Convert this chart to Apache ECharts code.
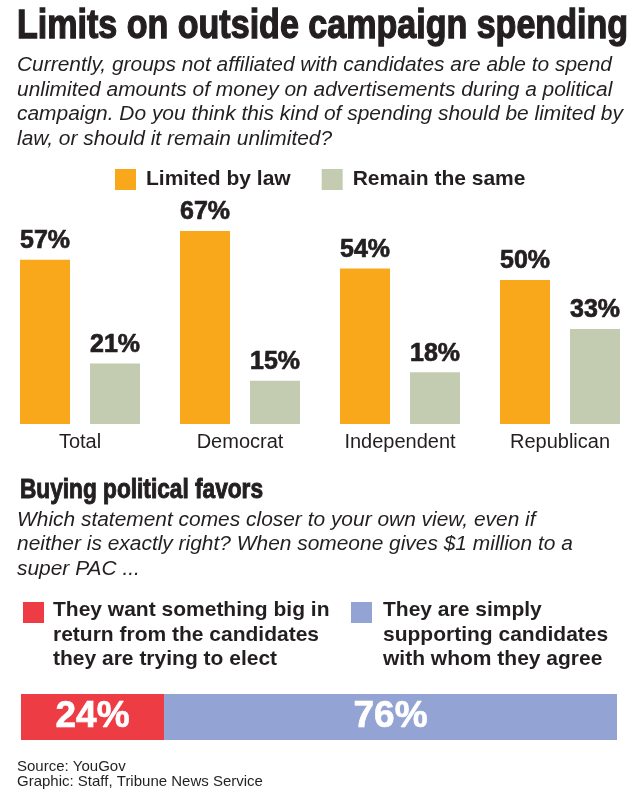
<!DOCTYPE html>
<html><head><meta charset="utf-8">
<script src="https://cdn.jsdelivr.net/npm/echarts@6/dist/echarts.min.js"></script>
<style>html,body{margin:0;padding:0;background:#fff}#c{width:642px;height:794px}</style>
</head><body><div id="c"></div>
<script>
// ---- data ----
const titleText = 'Limits on outside campaign spending';
const subtitleLines = [
  'Currently, groups not affiliated with candidates are able to spend',
  'unlimited amounts of money on advertisements during a political',
  'campaign. Do you think this kind of spending should be limited by',
  'law, or should it remain unlimited?'
];
const categories = ['Total', 'Democrat', 'Independent', 'Republican'];
const seriesNames = ['Limited by law', 'Remain the same'];
const limitedByLaw = [57, 67, 54, 50];
const remainSame = [21, 15, 18, 33];

const section2Title = 'Buying political favors';
const section2Lines = [
  'Which statement comes closer to your own view, even if',
  'neither is exactly right? When someone gives $1 million to a',
  'super PAC ...'
];
const favorNames = ['They want something big in return', 'They are simply supporting candidates'];
const favorLegendLines = [
  ['They want something big in', 'return from the candidates', 'they are trying to elect'],
  ['They are simply', 'supporting candidates', 'with whom they agree']
];
const favorCategory = ['Gives $1 million to a super PAC'];
const favorWantSomething = [24];
const favorSupporting = [76];
const sourceLines = ['Source: YouGov', 'Graphic: Staff, Tribune News Service'];

// ---- styling ----
const INK = '#231F20';
const ORANGE = '#F9A81B';
const SAGE = '#C3CCB1';
const RED = '#EE3C45';
const BLUE = '#93A4D4';

const cv = document.createElement('canvas').getContext('2d');
function tw(text, font) { cv.font = font; return cv.measureText(text).width; }
function hasFont(name) {
  const s = 'abcdefghijWMil1234567890%';
  cv.font = '40px monospace'; const a = cv.measureText(s).width;
  cv.font = '40px "' + name + '", monospace'; const b = cv.measureText(s).width;
  return Math.abs(a - b) > 0.5;
}
const hasNarrow = hasFont('Liberation Sans Narrow');
const SANS = '"Liberation Sans", Arial, sans-serif';
const COND = hasNarrow ? '"Liberation Sans Narrow", "Liberation Sans", sans-serif' : SANS;
const valueFont = hasNarrow ? 28 : 25;
const stackFont = hasNarrow ? 40 : 37;

function fitText(text, x, capCenterY, size, weight, family, targetW, strokeW) {
  const font = weight + ' ' + size + 'px ' + family;
  const w = tw(text, font);
  const sx = targetW ? targetW / w : 1;
  return {
    type: 'text', x: x, y: capCenterY, scaleX: sx, silent: true,
    style: { text: text, x: 0, y: 0, fill: INK, stroke: INK, lineWidth: strokeW || 0,
      font: font, verticalAlign: 'middle', align: 'left' }
  };
}

const graphics = [];
// title
graphics.push(fitText(titleText, 17, 26.5, 40, 'bold', COND, 611, 1.3));
// subtitle (common scale from first line)
const subFont = 'italic normal 20px ' + SANS;
const subScale = 595 / tw(subtitleLines[0], subFont);
const subY = [65, 90, 114.5, 139];
subtitleLines.forEach((t, i) => {
  graphics.push({ type: 'text', x: 17, y: subY[i], scaleX: subScale, silent: true,
    style: { text: t, x: 0, y: 0, fill: INK, font: subFont, verticalAlign: 'middle' } });
});
// section 2 title
graphics.push(fitText(section2Title, 20, 490, 28, 'bold', COND, 243, 1.0));
const s2Y = [520, 544.5, 569];
section2Lines.forEach((t, i) => {
  graphics.push({ type: 'text', x: 17, y: s2Y[i], scaleX: subScale, silent: true,
    style: { text: t, x: 0, y: 0, fill: INK, font: subFont, verticalAlign: 'middle' } });
});
// bottom legend
const legX = [[23, 53], [351, 383]];
const legColors = [RED, BLUE];
const legY = [610, 635, 659.5];
favorLegendLines.forEach((lines, k) => {
  graphics.push({ type: 'rect', x: legX[k][0], y: 602, silent: true,
    shape: { width: 21, height: 21 }, style: { fill: legColors[k] } });
  lines.forEach((t, i) => {
    graphics.push({ type: 'text', x: legX[k][1], y: legY[i], silent: true,
      style: { text: t, x: 0, y: 0, fill: INK, font: 'bold 21px ' + SANS, verticalAlign: 'middle' } });
  });
});
// source
const srcY = [767, 782];
sourceLines.forEach((t, i) => {
  graphics.push({ type: 'text', x: 17, y: srcY[i], silent: true,
    style: { text: t, x: 0, y: 0, fill: INK, font: 'normal 15px ' + SANS, verticalAlign: 'middle' } });
});

const valueLabel = (color, size) => ({
  show: true, formatter: '{c}%', fontSize: size, fontWeight: 'bold', fontFamily: COND,
  color: color, textBorderColor: color, textBorderWidth: 0.7
});

const chart = echarts.init(document.getElementById('c'), null, { renderer: 'canvas' });
chart.setOption({
  animation: false,
  backgroundColor: '#fff',
  textStyle: { fontFamily: SANS },
  legend: {
    data: seriesNames,
    left: 115, top: 169, padding: 0,
    itemWidth: 21, itemHeight: 21, itemGap: 31,
    icon: 'rect',
    textStyle: { fontSize: 21, fontWeight: 'bold', color: INK, fontFamily: SANS, padding: [3, 0, 0, 5] },
    selectedMode: false
  },
  grid: [
    { left: 0, width: 640, top: 136, height: 288 },
    { left: 21, width: 596, top: 694, height: 46 }
  ],
  xAxis: [
    { gridIndex: 0, type: 'category', data: categories,
      axisLine: { show: false }, axisTick: { show: false }, splitLine: { show: false },
      axisLabel: { fontSize: 20, color: INK, margin: 8, fontFamily: SANS } },
    { gridIndex: 1, type: 'value', min: 0, max: 100, show: false }
  ],
  yAxis: [
    { gridIndex: 0, type: 'value', min: 0, max: 100, show: false },
    { gridIndex: 1, type: 'category', data: favorCategory, show: false }
  ],
  series: [
    { name: seriesNames[0], type: 'bar', xAxisIndex: 0, yAxisIndex: 0, data: limitedByLaw,
      barWidth: 50, barGap: '40%', itemStyle: { color: ORANGE },
      label: Object.assign(valueLabel(INK, valueFont), { position: 'top', distance: 6 }) },
    { name: seriesNames[1], type: 'bar', xAxisIndex: 0, yAxisIndex: 0, data: remainSame,
      barWidth: 50, barGap: '40%', itemStyle: { color: SAGE },
      label: Object.assign(valueLabel(INK, valueFont), { position: 'top', distance: 6 }) },
    { name: favorNames[0], type: 'bar', xAxisIndex: 1, yAxisIndex: 1, stack: 'fav', data: favorWantSomething,
      barWidth: 46, itemStyle: { color: RED },
      label: Object.assign(valueLabel('#fff', stackFont), { position: 'inside' }) },
    { name: favorNames[1], type: 'bar', xAxisIndex: 1, yAxisIndex: 1, stack: 'fav', data: favorSupporting,
      barWidth: 46, itemStyle: { color: BLUE },
      label: Object.assign(valueLabel('#fff', stackFont), { position: 'inside' }) }
  ],
  graphic: graphics
});
</script>
</body></html>
